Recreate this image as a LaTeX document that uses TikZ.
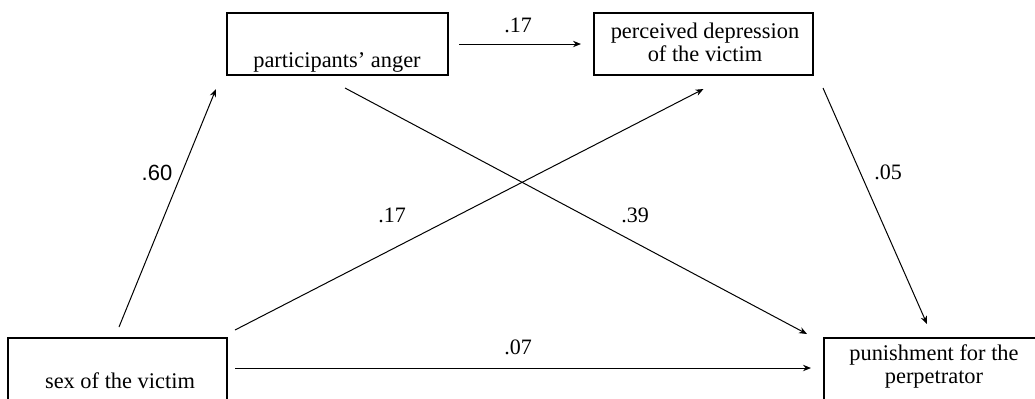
\documentclass[tikz,border=0pt]{standalone}
\usepackage{fontspec}
\setmainfont{Liberation Serif}
\newfontfamily\arialfont{Liberation Sans}
\usetikzlibrary{calc, arrows.meta}
\tikzset{
	varbox/.style={draw, line width=1pt, inner sep=0pt}
}
\tikzset{
	boxtext/.style={font=\fontsize{11.2}{11.5}\selectfont, align=center, inner sep=0pt}
}
\tikzset{
	coef/.style={font=\fontsize{11}{12}\selectfont, inner sep=0pt}
}
\tikzset{
	effect/.style={->, line width=0.5pt}
}

\begin{document}
\begin{tikzpicture}[x=0.5pt, y=-0.5pt, >={Stealth[length=4pt,width=3.2pt]}]
      \useasboundingbox (0,0) rectangle (1035,398);
      \clip (0,0) rectangle (1035,398);
      % four variables: boxes and their texts
      \node[varbox, minimum width=110.5pt, minimum height=31pt] (anger) at (337.5,44) {};
      \node[boxtext] (angertext) at (337,62) {participants’ anger};
      \node[varbox, minimum width=109.5pt, minimum height=31pt] (dep) at (703.5,44) {};
      \node[boxtext] (deptext) at (705,42) {perceived depression\\of the victim};
      \node[varbox, minimum width=109.5pt, minimum height=41pt] (sex) at (117.5,379) {};
      \node[boxtext] (sextext) at (120,381) {sex of the victim};
      \node[varbox, minimum width=110pt, minimum height=41pt] (pun) at (934,379) {};
      \node[boxtext] (puntext) at (934,366.5) {punishment for the\\perpetrator};
      % paths with their coefficients
      \draw[effect, shorten <=5pt, shorten >=6pt] (anger) -- (dep);
      \node[coef] (c1) at (518,25) {.17};
      \draw[effect] ($(sex.north)+(1.5,-10)$) -- ($(anger.south west)+(-10,13)$);
      \node[coef] (c2) at (157,173) {\arialfont .60};
      \draw[effect] ($(sex.north east)+(7,-7)$) -- ($(dep.south)+(0,13)$);
      \node[coef] (c3) at (392,215) {.17};
      \draw[effect] ($(anger.south)+(7.5,12)$) -- ($(pun.north west)+(-16,-3)$);
      \node[coef] (c4) at (635,215) {.39};
      \draw[effect] ($(dep.south east)+(9,12)$) -- ($(pun.north)+(-7,-13)$);
      \node[coef] (c5) at (888,172) {.05};
      \draw[effect] ($(sex.north east)+(7,31)$) -- ($(pun.north west)+(-12,31)$);
      \node[coef] (c6) at (518,347) {.07};
    \end{tikzpicture}
\end{document}
